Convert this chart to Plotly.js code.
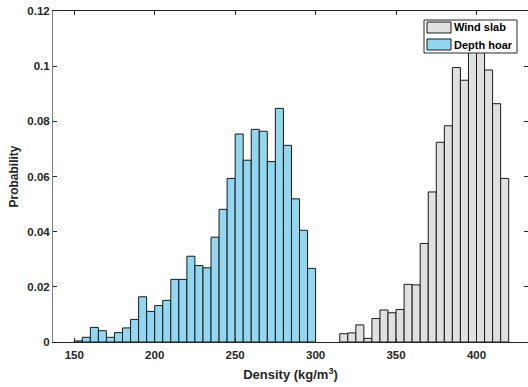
<!DOCTYPE html>
<html>
<head>
<meta charset="utf-8">
<script src="https://cdn.plot.ly/plotly-3.0.1.min.js"></script>
<style>html,body{margin:0;padding:0;background:#fff;}#chart{width:528px;height:387px;}</style>
</head>
<body>
<div id="chart"></div>
<script>
// Bin width 5 kg/m^3; values are bin left edges
var depthHoarBins = [150,155,160,165,170,175,180,185,190,195,200,205,210,215,220,225,230,235,240,245,250,255,260,265,270,275,280,285,290,295];
var depthHoarProb = [0.0004,0.0017,0.0053,0.0041,0.0017,0.0034,0.0051,0.0082,0.0164,0.0111,0.0132,0.0151,0.0227,0.0227,0.0311,0.0277,0.0269,0.0380,0.0481,0.0593,0.0754,0.0659,0.0771,0.0764,0.0654,0.0847,0.0713,0.0519,0.0405,0.0267];
var windSlabBins = [315,320,325,330,335,340,345,350,355,360,365,370,375,380,385,390,395,400,405,410,415];
var windSlabProb = [0.0030,0.0033,0.0062,0.0013,0.0085,0.0116,0.0106,0.0118,0.0209,0.0207,0.0357,0.0544,0.0724,0.0784,0.0995,0.0949,0.111,0.110,0.0986,0.0864,0.0593];
var xTicks = [150,200,250,300,350,400];
var yTicks = [0,0.02,0.04,0.06,0.08,0.1,0.12];
var yTickText = ['0','0.02','0.04','0.06','0.08','0.1','0.12'];
var seriesNames = ['Wind slab','Depth hoar'];

var binW = 5;
var font = 'Liberation Sans, Arial, Helvetica, sans-serif';
var blue = 'rgb(147,214,240)';
var gray = 'rgb(224,224,224)';

function centers(b){ return b.map(function(v){ return v + binW/2; }); }

var traces = [
  {type:'bar', name:seriesNames[0], x:centers(windSlabBins), y:windSlabProb, width:binW,
   marker:{color:gray, line:{color:'#1a1a1a', width:1}}, showlegend:false, hoverinfo:'x+y'},
  {type:'bar', name:seriesNames[1], x:centers(depthHoarBins), y:depthHoarProb, width:binW,
   marker:{color:blue, line:{color:'#1a1a1a', width:1}}, showlegend:false, hoverinfo:'x+y'}
];

var axisCommon = {
  showgrid:false, zeroline:false, showline:true, linewidth:1,
  mirror:'ticks', ticks:'inside', ticklen:4, tickcolor:'#262626',
  tickfont:{family:font, size:11.5, color:'#262626', weight:'bold'}
};

var layout = {
  width:528, height:387,
  margin:{l:53, r:0, t:11, b:45},
  paper_bgcolor:'#fff', plot_bgcolor:'#fff',
  bargap:0, barmode:'overlay',
  xaxis:Object.assign({}, axisCommon, {
    linecolor:'#262626', ticklabelstandoff:2,
    range:[136.8, 432], tickvals:xTicks, ticktext:xTicks.map(String),
    title:{text:'<b>Density (kg/m<sup>3</sup>)</b>', font:{family:font, size:13, color:'#262626'}, standoff:10}
  }),
  yaxis:Object.assign({}, axisCommon, {
    linecolor:'#7f7f7f',
    range:[0, 0.12], tickvals:yTicks, ticktext:yTickText,
    title:{text:'<b>Probability</b>', font:{family:font, size:12, color:'#262626'}, standoff:6}
  }),
  shapes:[
    {type:'rect', xref:'paper', yref:'paper', x0:(424-53)/475, x1:(517-53)/475, y0:(342-53)/331, y1:(342-20)/331,
     fillcolor:'#fff', line:{color:'#262626', width:1}, layer:'above'},
    {type:'rect', xref:'paper', yref:'paper', x0:(427-53)/475, x1:(451-53)/475, y0:(342-33)/331, y1:(342-22)/331,
     fillcolor:gray, line:{color:'#1a1a1a', width:1}, layer:'above'},
    {type:'rect', xref:'paper', yref:'paper', x0:(427-53)/475, x1:(451-53)/475, y0:(342-50)/331, y1:(342-39)/331,
     fillcolor:blue, line:{color:'#1a1a1a', width:1}, layer:'above'}
  ],
  annotations:[
    {xref:'paper', yref:'paper', x:(452-53)/475, y:(342-27.5)/331, xanchor:'left', yanchor:'middle', showarrow:false,
     text:'<b>'+seriesNames[0]+'</b>', font:{family:font, size:11, color:'#000'}},
    {xref:'paper', yref:'paper', x:(452-53)/475, y:(342-44.5)/331, xanchor:'left', yanchor:'middle', showarrow:false,
     text:'<b>'+seriesNames[1]+'</b>', font:{family:font, size:11, color:'#000'}}
  ]
};

Plotly.newPlot('chart', traces, layout, {displayModeBar:false, staticPlot:true});
</script>
</body>
</html>
